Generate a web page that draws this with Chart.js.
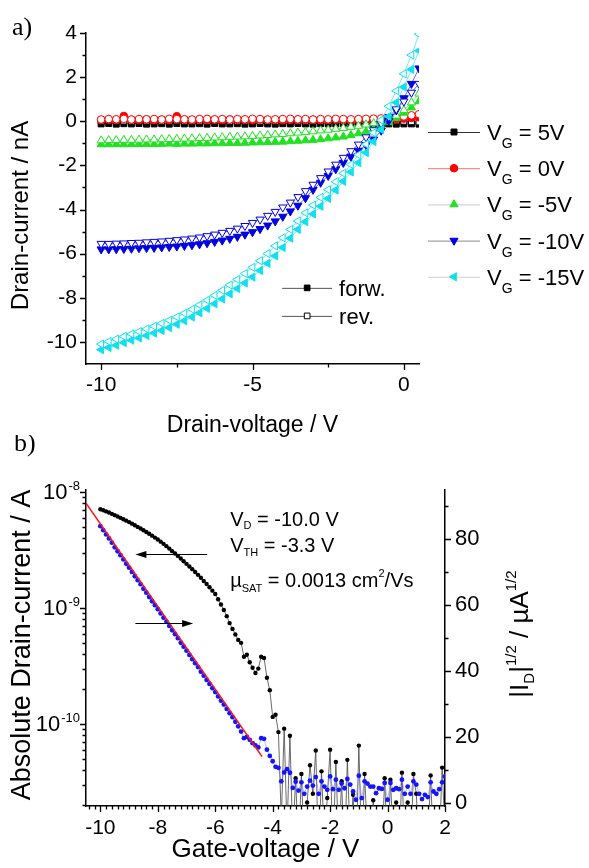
<!DOCTYPE html>
<html>
<head>
<meta charset="utf-8">
<script src="https://cdn.jsdelivr.net/npm/chart.js@4.4.1/dist/chart.umd.min.js"></script>
<style>
  html, body { margin: 0; padding: 0; background: #fff; }
  #wrap { position: relative; width: 589px; height: 868px; }
  #boxA { position: absolute; left: 0; top: 0; width: 589px; height: 441px; }
  #boxB { position: absolute; left: 0; top: 435px; width: 589px; height: 433px; }
</style>
</head>
<body>
<div id="wrap">
  <div id="boxA"><canvas id="chartA" width="589" height="441"></canvas></div>
  <div id="boxB"><canvas id="chartB" width="589" height="433"></canvas></div>
</div>
<script>
/* global Chart */

// a) Ausgangskennlinien: Drain-Spannung in V, Strom in nA
var drainV = [-10, -9.75, -9.5, -9.25, -9, -8.75, -8.5, -8.25, -8, -7.75, -7.5, -7.25, -7, -6.75, -6.5, -6.25,
  -6, -5.75, -5.5, -5.25, -5, -4.75, -4.5, -4.25, -4, -3.75, -3.5, -3.25, -3, -2.75, -2.5, -2.25,
  -2, -1.75, -1.5, -1.25, -1, -0.75, -0.5, -0.25, 0, 0.25, 0.5];

var vg5Fwd = [-0.12, -0.10, -0.13, -0.11, -0.12, -0.10, -0.13, -0.12, -0.11, -0.13,
  -0.10, -0.12, -0.12, -0.11, -0.13, -0.10, -0.12, -0.12, -0.11, -0.13,
  -0.12, -0.10, -0.12, -0.13, -0.11, -0.12, -0.10, -0.12, -0.13, -0.11,
  -0.12, -0.12, -0.10, -0.13, -0.12, -0.11, -0.12, -0.10, -0.12, -0.13,
  -0.12, -0.12, -0.13];
var vg5Rev = [0.00, 0.02, -0.01, 0.01, 0.00, 0.02, 0.01, -0.01, 0.00, 0.01,
  0.02, 0.00, -0.01, 0.01, 0.00, 0.02, 0.01, 0.00, -0.01, 0.01,
  0.02, 0.00, 0.01, -0.01, 0.00, 0.02, 0.01, 0.00, 0.01, -0.01,
  0.00, 0.02, 0.01, 0.00, 0.01, 0.00, -0.01, 0.01, 0.00, 0.02,
  0.00, -0.02, -0.03];
var vg0Fwd = [0.06, 0.08, 0.05, 0.24, 0.07, 0.06, 0.08, 0.05, 0.07, 0.06,
  0.23, 0.07, 0.05, 0.08, 0.06, 0.07, 0.05, 0.08, 0.06, 0.07,
  0.05, 0.08, 0.07, 0.06, 0.05, 0.07, 0.08, 0.06, 0.07, 0.05,
  0.06, 0.08, 0.07, 0.05, 0.06, 0.08, 0.07, 0.06, 0.08, 0.10,
  0.12, 0.15, 0.18];
var vg0Rev = [0.08, 0.10, 0.09, 0.11, 0.08, 0.10, 0.09, 0.10, 0.08, 0.11,
  0.10, 0.09, 0.08, 0.10, 0.11, 0.09, 0.10, 0.08, 0.10, 0.09,
  0.11, 0.10, 0.08, 0.09, 0.10, 0.11, 0.09, 0.10, 0.08, 0.10,
  0.09, 0.11, 0.10, 0.09, 0.10, 0.11, 0.12, 0.13, 0.15, 0.18,
  0.22, 0.27, 0.32];
var vgm5Fwd = [-1.05, -1.05, -1.04, -1.05, -1.04, -1.04, -1.03, -1.04, -1.03, -1.02,
  -1.03, -1.02, -1.02, -1.01, -1.01, -1.00, -1.00, -0.99, -0.99, -0.98,
  -0.97, -0.96, -0.95, -0.94, -0.93, -0.91, -0.89, -0.87, -0.85, -0.82,
  -0.78, -0.74, -0.70, -0.63, -0.55, -0.46, -0.35, -0.22, -0.05, 0.15,
  0.38, 0.62, 0.90];
var vgm5Rev = [-0.87, -0.86, -0.86, -0.85, -0.85, -0.84, -0.83, -0.83, -0.82, -0.81,
  -0.80, -0.79, -0.78, -0.77, -0.76, -0.74, -0.73, -0.71, -0.70, -0.69,
  -0.67, -0.65, -0.63, -0.60, -0.58, -0.55, -0.52, -0.49, -0.46, -0.42,
  -0.39, -0.35, -0.31, -0.26, -0.21, -0.15, -0.09, -0.01, 0.10, 0.25,
  0.50, 0.85, 1.25];
var vgm10Fwd = [-5.80, -5.80, -5.79, -5.78, -5.77, -5.75, -5.74, -5.73, -5.71, -5.69,
  -5.67, -5.64, -5.61, -5.57, -5.52, -5.46, -5.40, -5.32, -5.23, -5.13,
  -5.02, -4.88, -4.72, -4.53, -4.32, -4.08, -3.82, -3.48, -3.10, -2.78,
  -2.47, -2.17, -1.88, -1.60, -1.33, -1.08, -0.82, -0.42, 0.02, 0.50,
  1.05, 1.70, 2.40];
var vgm10Rev = [-5.55, -5.55, -5.54, -5.53, -5.51, -5.50, -5.48, -5.46, -5.44, -5.41,
  -5.38, -5.35, -5.31, -5.26, -5.20, -5.13, -5.05, -4.96, -4.86, -4.74,
  -4.60, -4.45, -4.28, -4.10, -3.90, -3.68, -3.43, -3.16, -2.87, -2.57,
  -2.27, -1.96, -1.65, -1.35, -1.05, -0.72, -0.40, -0.10, 0.20, 0.55,
  0.90, 1.30, 1.70];
var vgm15Fwd = [-10.35, -10.25, -10.15, -10.03, -9.92, -9.82, -9.71, -9.60, -9.48, -9.35,
  -9.20, -9.04, -8.87, -8.68, -8.48, -8.27, -8.05, -7.82, -7.58, -7.33,
  -7.06, -6.76, -6.44, -6.10, -5.72, -5.30, -4.90, -4.55, -4.20, -3.85,
  -3.50, -3.12, -2.72, -2.30, -1.88, -1.42, -0.92, -0.38, 0.22, 0.85,
  1.55, 2.35, 3.20];
var vgm15Rev = [-10.10, -9.98, -9.87, -9.75, -9.64, -9.53, -9.41, -9.29, -9.16, -9.02,
  -8.87, -8.70, -8.52, -8.32, -8.11, -7.89, -7.66, -7.42, -7.17, -6.90,
  -6.62, -6.32, -6.00, -5.65, -5.28, -4.90, -4.52, -4.15, -3.80, -3.45,
  -3.10, -2.74, -2.36, -1.96, -1.52, -1.04, -0.52, 0.05, 0.68, 1.38,
  2.15, 3.00, 3.95];

var gateLegend = ['5V', '0V', '-5V', '-10V', '-15V'];
var aXTicks = [-10, -5, 0];
var aXMinor = [-7.5, -2.5];
var aYTicks = [-10, -8, -6, -4, -2, 0, 2, 4];
var aYMinor = [-9, -7, -5, -3, -1, 1, 3];

// b) Transferkennlinie bei V_D = -10 V
var gateV = [-10, -9.9, -9.8, -9.7, -9.6, -9.5, -9.4, -9.3, -9.2, -9.1,
  -9, -8.9, -8.8, -8.7, -8.6, -8.5, -8.4, -8.3, -8.2, -8.1,
  -8, -7.9, -7.8, -7.7, -7.6, -7.5, -7.4, -7.3, -7.2, -7.1,
  -7, -6.9, -6.8, -6.7, -6.6, -6.5, -6.4, -6.3, -6.2, -6.1,
  -6, -5.9, -5.8, -5.7, -5.6, -5.5, -5.4, -5.3, -5.2, -5.1,
  -5, -4.9, -4.8, -4.7, -4.6, -4.5, -4.4, -4.3, -4.2, -4.1,
  -4, -3.9, -3.8, -3.7, -3.6, -3.5, -3.4, -3.3, -3.2, -3.1,
  -3, -2.9, -2.8, -2.7, -2.6, -2.5, -2.4, -2.3, -2.2, -2.1,
  -2, -1.9, -1.8, -1.7, -1.6, -1.5, -1.4, -1.3, -1.2, -1.1,
  -1, -0.9, -0.8, -0.7, -0.6, -0.5, -0.4, -0.3, -0.2, -0.1,
  0, 0.1, 0.2, 0.3, 0.4, 0.5, 0.6, 0.7, 0.8, 0.9,
  1, 1.1, 1.2, 1.3, 1.4, 1.5, 1.6, 1.7, 1.8, 1.9,
  2];
var absCurrent = [7.10e-9, 6.95e-9, 6.80e-9, 6.65e-9, 6.48e-9, 6.31e-9, 6.15e-9, 5.98e-9, 5.82e-9, 5.66e-9,
  5.50e-9, 5.33e-9, 5.17e-9, 5.00e-9, 4.84e-9, 4.68e-9, 4.52e-9, 4.36e-9, 4.20e-9, 4.04e-9,
  3.89e-9, 3.73e-9, 3.57e-9, 3.41e-9, 3.25e-9, 3.09e-9, 2.95e-9, 2.81e-9, 2.67e-9, 2.53e-9,
  2.40e-9, 2.28e-9, 2.16e-9, 2.04e-9, 1.93e-9, 1.82e-9, 1.71e-9, 1.61e-9, 1.51e-9, 1.41e-9,
  1.32e-9, 1.19e-9, 1.07e-9, 9.6e-10, 8.5e-10, 7.4e-10, 6.6e-10, 5.9e-10, 5.3e-10, 5.0e-10,
  3.8e-10, 3.95e-10, 3.4e-10, 3.05e-10, 2.75e-10, 3.0e-10, 3.8e-10, 3.7e-10, 2.5e-10, 1.95e-10,
  1.15e-10, 1.2e-10, 8.5e-11, 1.5e-11, 9.1e-11, 1.2e-11, 7.9e-11, 1.0e-11, 3.4e-11, 8e-12,
  3.7e-11, 9e-12, 2.1e-11, 4.4e-11, 2.5e-11, 5.9e-11, 7e-12, 3.9e-11, 1.0e-11, 2.3e-11,
  6.0e-11, 8e-12, 4.7e-11, 9e-12, 3.2e-11, 7e-12, 4.9e-11, 1.0e-11, 2.45e-11, 6e-12,
  6.5e-11, 8e-12, 3.7e-11, 1.1e-11, 7e-12, 2.2e-11, 9e-12, 1.2e-11, 8e-12, 3.4e-11,
  7e-12, 3.3e-11, 1.0e-11, 2.1e-11, 8e-12, 3.8e-11, 9e-12, 2.1e-11, 7e-12, 3.7e-11,
  2.5e-11, 8e-12, 1.1e-11, 7e-12, 9e-12, 3.6e-11, 8e-12, 1.0e-11, 9e-12, 4.2e-11,
  1.2e-11];
var sqrtCurrent = [84.0, 82.8, 81.5, 80.3, 79.0, 77.6, 76.4, 75.2, 73.9, 72.6,
  71.4, 70.1, 68.8, 67.6, 66.4, 65.0, 63.8, 62.5, 61.2, 60.0,
  58.8, 57.5, 56.2, 55.0, 53.7, 52.4, 51.2, 50.0, 48.6, 47.4,
  46.2, 44.9, 43.6, 42.4, 41.2, 39.8, 38.6, 37.3, 36.1, 34.8,
  33.6, 32.3, 31.0, 29.8, 28.5, 27.2, 26.0, 24.6, 23.2, 21.6,
  19.6, 20.0, 19.1, 18.1, 17.4, 16.8, 19.6, 19.4, 16.1, 14.2,
  12.6, 10.9, 10.6, 6.5, 9.2, 10.2, 9.1, 4.5, 6.4, 3.7,
  6.2, 2.7, 4.9, 6.7, 5.2, 7.8, 2.7, 6.5, 4.9, 3.9,
  8.0, 4.1, 7.0, 3.9, 5.8, 4.4, 7.2, 5.5, 3.4, 0.9,
  8.2, 1.4, 6.5, 5.8, 4.9, 4.9, 2.9, 4.4, 4.2, 6.0,
  0.9, 6.0, 3.9, 4.4, 4.1, 7.0, 2.7, 4.9, 2.7, 6.5,
  5.5, 2.7, 1.1, 2.4, 1.7, 6.2, 3.4, 2.7, 4.1, 6.2,
  8.0];
var fitV = [-10.5, -4.37];
var fitSqrt = [91.0, 14.0];

var bXTicks = [-10, -8, -6, -4, -2, 0, 2];
var bLogTicks = [1e-10, 1e-9, 1e-8];
var bLogExp = ['-10', '-9', '-8'];
var bRTicks = [0, 20, 40, 60, 80];
var bRMinor = [10, 30, 50, 70, 90];

(function () {
    var FONT = '"Liberation Sans", Arial, sans-serif';
    var SERIF = '"Liberation Serif", "Times New Roman", serif';
    Chart.defaults.font.family = FONT;
    Chart.defaults.color = '#000';

    function pts(xs, ys) {
        return xs.map(function (x, i) { return {x: x, y: ys[i]}; });
    }

    function fixSize(prop, size) {
        return function (scale) { scale[prop] = size; };
    }

    function useTicks(values) {
        return function (scale) {
            scale.ticks = values.map(function (v) { return {value: v}; });
        };
    }

    // Tickstriche nach aussen, selbst gezeichnet (Haupt- und Nebenticks).
    function tickMarks(ctx, scale, values, len, side) {
        ctx.save();
        ctx.strokeStyle = '#000';
        ctx.lineWidth = 1.3;
        ctx.beginPath();
        values.forEach(function (v) {
            var p = Math.round(scale.getPixelForValue(v)) + 0.5;
            if (side === 'bottom') {
                ctx.moveTo(p, scale.top);
                ctx.lineTo(p, scale.top + len);
            } else if (side === 'left') {
                ctx.moveTo(scale.right, p);
                ctx.lineTo(scale.right - len, p);
            } else {
                ctx.moveTo(scale.left, p);
                ctx.lineTo(scale.left + len, p);
            }
        });
        ctx.stroke();
        ctx.restore();
    }

    // Text mit Tief-/Hochstellung: parts = [[text, size, dy], ...]
    function richWidth(ctx, parts) {
        var w = 0;
        parts.forEach(function (p) {
            ctx.font = p[1] + 'px ' + FONT;
            w += ctx.measureText(p[0]).width;
        });
        return w;
    }
    function drawRich(ctx, parts, x, y) {
        ctx.textAlign = 'left';
        ctx.textBaseline = 'alphabetic';
        parts.forEach(function (p) {
            ctx.font = p[1] + 'px ' + FONT;
            ctx.fillText(p[0], x, y + (p[2] || 0));
            x += ctx.measureText(p[0]).width;
        });
        return x;
    }

    function marker(ctx, color, style, rot, open, radius, x, y) {
        ctx.save();
        ctx.fillStyle = open ? '#fff' : color;
        ctx.strokeStyle = color;
        Chart.helpers.drawPoint(ctx, {pointStyle: style, rotation: rot, radius: radius, borderWidth: 1}, x, y);
        ctx.restore();
    }

    // ---------------- a) ----------------
    var aSeries = [
        {fwd: vg5Fwd, rev: vg5Rev, color: '#000000', style: 'rect', rot: 0, r: 4.2, leg: '#333333', order: 8},
        {fwd: vg0Fwd, rev: vg0Rev, color: '#ff0000', style: 'circle', rot: 0, r: 3.8, leg: '#ff7070', order: 6},
        {fwd: vgm5Fwd, rev: vgm5Rev, color: '#22e022', style: 'triangle', rot: 0, r: 4.7, leg: '#c8c8c8', order: 4},
        {fwd: vgm10Fwd, rev: vgm10Rev, color: '#0000e0', style: 'triangle', rot: 180, r: 4.7, leg: '#8a8a8a', order: 2},
        {fwd: vgm15Fwd, rev: vgm15Rev, color: '#10e0ee', style: 'triangle', rot: -90, r: 4.7, leg: '#d0d0d0', order: 0}
    ];

    var aDatasets = [];
    aSeries.forEach(function (s) {
        [false, true].forEach(function (open) {
            aDatasets.push({
                data: pts(drainV, open ? s.rev : s.fwd),
                showLine: true,
                borderColor: s.color,
                borderWidth: 0.6,
                pointStyle: s.style,
                rotation: s.rot,
                pointRadius: s.r,
                pointBorderWidth: 1,
                pointBorderColor: s.color,
                pointBackgroundColor: open ? '#ffffff' : s.color,
                order: open ? s.order : s.order + 1,
                clip: 0
            });
        });
    });

    var aDecor = {
        id: 'aDecor',
        afterDraw: function (chart) {
            var ctx = chart.ctx;
            var xs = chart.scales.x;
            var ys = chart.scales.y;
            var area = chart.chartArea;

            tickMarks(ctx, xs, aXTicks, 6, 'bottom');
            tickMarks(ctx, xs, aXMinor, 3.5, 'bottom');
            tickMarks(ctx, ys, aYTicks, 6, 'left');
            tickMarks(ctx, ys, aYMinor, 3.5, 'left');

            ctx.save();
            ctx.fillStyle = '#000';

            // Panel-Buchstabe
            ctx.font = '26px ' + SERIF;
            ctx.textAlign = 'left';
            ctx.textBaseline = 'alphabetic';
            ctx.fillText('a)', 12, 35);

            // y-Achsentitel
            ctx.save();
            ctx.translate(21, (area.top + area.bottom) / 2 + 17);
            ctx.rotate(-Math.PI / 2);
            ctx.font = '24px ' + FONT;
            ctx.textAlign = 'center';
            ctx.textBaseline = 'middle';
            ctx.fillText('Drain-current / nA', 0, 0);
            ctx.restore();

            // Legende rechts (V_G)
            aSeries.forEach(function (s, i) {
                var y = 132 + i * 36.2;
                var x0 = area.right + 9;
                ctx.strokeStyle = s.leg;
                ctx.lineWidth = 1;
                ctx.beginPath();
                ctx.moveTo(x0, y + 0.5);
                ctx.lineTo(x0 + 52, y + 0.5);
                ctx.stroke();
                marker(ctx, s.color, s.style, s.rot, false, s.r, x0 + 26, y);
                ctx.fillStyle = '#000';
                drawRich(ctx, [['V', 22, 0], ['G', 14, 8], [' = ' + gateLegend[i], 22, 0]], x0 + 59, y + 8);
            });

            // Legende im Plot (forw./rev.)
            [['forw.', false, -7.55], ['rev.', true, -8.82]].forEach(function (e) {
                var y = ys.getPixelForValue(e[2]);
                var xa = xs.getPixelForValue(-4.02);
                var xb = xs.getPixelForValue(-2.37);
                ctx.strokeStyle = '#555';
                ctx.lineWidth = 1;
                ctx.beginPath();
                ctx.moveTo(xa, y + 0.5);
                ctx.lineTo(xb, y + 0.5);
                ctx.stroke();
                marker(ctx, '#000', 'rect', 0, e[1], 4, (xa + xb) / 2, y);
                ctx.fillStyle = '#000';
                drawRich(ctx, [[e[0], 22, 0]], xb + 7, y + 8);
            });
            ctx.restore();
        }
    };

    new Chart(document.getElementById('chartA').getContext('2d'), {
        type: 'scatter',
        data: {datasets: aDatasets},
        options: {
            responsive: false,
            animation: false,
            devicePixelRatio: 1,
            events: [],
            layout: {padding: {top: 33, right: 170, left: 0, bottom: 0}},
            plugins: {legend: {display: false}, tooltip: {enabled: false}},
            scales: {
                x: {
                    type: 'linear',
                    min: -10.5,
                    max: 0.5,
                    afterBuildTicks: useTicks(aXTicks),
                    afterFit: fixSize('height', 77),
                    grid: {display: false, drawTicks: false},
                    border: {display: true, color: '#000', width: 1.5},
                    ticks: {font: {size: 21}, padding: 9, maxRotation: 0},
                    title: {display: true, text: 'Drain-voltage / V', font: {size: 23}, padding: {top: 0, bottom: 2}}
                },
                y: {
                    type: 'linear',
                    min: -11,
                    max: 4,
                    afterBuildTicks: useTicks(aYTicks),
                    afterFit: fixSize('width', 86),
                    grid: {display: false, drawTicks: false},
                    border: {display: true, color: '#000', width: 1.5},
                    ticks: {font: {size: 21}, padding: 9}
                }
            }
        },
        plugins: [aDecor]
    });

    // ---------------- b) ----------------
    var bDecor = {
        id: 'bDecor',
        afterDraw: function (chart) {
            var ctx = chart.ctx;
            var xs = chart.scales.x;
            var yl = chart.scales.yLog;
            var yr = chart.scales.yR;
            var area = chart.chartArea;
            var i, d;

            var xMinor = [];
            for (i = -52; i <= 9; i++) {
                if (i % 10 !== 0) { xMinor.push(i / 5); }
            }
            var logMinor = [];
            [1e-11, 1e-10, 1e-9].forEach(function (dec) {
                for (d = 2; d <= 9; d++) {
                    if (dec * d >= yl.min && dec * d <= yl.max) { logMinor.push(dec * d); }
                }
            });

            tickMarks(ctx, xs, bXTicks, 6, 'bottom');
            tickMarks(ctx, xs, xMinor, 3.5, 'bottom');
            tickMarks(ctx, yl, bLogTicks, 6, 'left');
            tickMarks(ctx, yl, logMinor, 3.5, 'left');
            tickMarks(ctx, yr, bRTicks, 6, 'right');
            tickMarks(ctx, yr, bRMinor, 3.5, 'right');

            ctx.save();
            ctx.fillStyle = '#000';

            // Log-Beschriftung 10^x
            bLogTicks.forEach(function (v, k) {
                var y = yl.getPixelForValue(v);
                ctx.font = '13px ' + FONT;
                var ws = ctx.measureText(bLogExp[k]).width;
                ctx.textAlign = 'right';
                ctx.textBaseline = 'alphabetic';
                ctx.fillText(bLogExp[k], 80, y - 2);
                ctx.font = '22px ' + FONT;
                ctx.textBaseline = 'middle';
                ctx.fillText('10', 80 - ws - 1, y + 1);
            });

            ctx.font = '26px ' + SERIF;
            ctx.textAlign = 'left';
            ctx.textBaseline = 'alphabetic';
            ctx.fillText('b)', 14, 16);

            // linker Achsentitel
            ctx.save();
            ctx.translate(23, (area.top + area.bottom) / 2 - 3);
            ctx.rotate(-Math.PI / 2);
            ctx.font = '27px ' + FONT;
            ctx.textAlign = 'center';
            ctx.textBaseline = 'middle';
            ctx.fillText('Absolute Drain-current / A', 0, 0);
            ctx.restore();

            // rechter Achsentitel |I_D|^1/2 / µA^1/2
            var rParts = [['|I', 26, 0], ['D', 15, 6], ['|', 26, 0], ['1/2', 15, -12], [' / \u00b5A', 26, 0], ['1/2', 15, -12]];
            var rw = richWidth(ctx, rParts);
            ctx.save();
            ctx.translate(528, (area.top + area.bottom) / 2 - 14);
            ctx.rotate(-Math.PI / 2);
            drawRich(ctx, rParts, -rw / 2, 0);
            ctx.restore();

            // Kennwerte
            var tx = xs.getPixelForValue(-5.48);
            drawRich(ctx, [['V', 20, 0], ['D', 11, 3], [' = -10.0 V', 20, 0]], tx, yr.getPixelForValue(84.2));
            drawRich(ctx, [['V', 20, 0], ['TH', 11, 4], [' = -3.3 V', 20, 0]], tx, yr.getPixelForValue(75.5) - 2);
            var ex = drawRich(ctx, [['\u00b5', 20, 0], ['SAT', 11, 5], [' = 0.0013 cm', 20, 0]], tx, yr.getPixelForValue(65.5));
            ex = drawRich(ctx, [['2', 11, -10]], ex, yr.getPixelForValue(65.5));
            drawRich(ctx, [['/Vs', 20, 0]], ex, yr.getPixelForValue(65.5));

            // Pfeile: welche Kurve zu welcher Achse gehoert
            function arrow(v1, v2, r) {
                var x1 = xs.getPixelForValue(v1);
                var x2 = xs.getPixelForValue(v2);
                var y = Math.round(yr.getPixelForValue(r)) + 0.5;
                var dir = x2 > x1 ? 1 : -1;
                ctx.strokeStyle = '#000';
                ctx.lineWidth = 1;
                ctx.beginPath();
                ctx.moveTo(x1, y);
                ctx.lineTo(x2 - dir * 8, y);
                ctx.stroke();
                ctx.fillStyle = '#000';
                ctx.beginPath();
                ctx.moveTo(x2, y);
                ctx.lineTo(x2 - dir * 11, y - 3.5);
                ctx.lineTo(x2 - dir * 11, y + 3.5);
                ctx.closePath();
                ctx.fill();
            }
            arrow(-6.28, -8.78, 75.5);
            arrow(-8.78, -6.77, 54.5);

            ctx.restore();
        }
    };

    new Chart(document.getElementById('chartB').getContext('2d'), {
        type: 'scatter',
        data: {
            datasets: [
                {
                    data: pts(fitV, fitSqrt),
                    yAxisID: 'yR',
                    showLine: true,
                    borderColor: '#ff1818',
                    borderWidth: 1.6,
                    pointRadius: 0,
                    order: 0,
                    clip: 0
                },
                {
                    data: pts(gateV, sqrtCurrent),
                    yAxisID: 'yR',
                    showLine: true,
                    borderColor: 'rgba(110, 110, 255, 0.6)',
                    borderWidth: 0.8,
                    pointRadius: 2.4,
                    pointBorderWidth: 0,
                    pointBackgroundColor: '#1414ff',
                    order: 1,
                    clip: 0
                },
                {
                    data: pts(gateV, absCurrent),
                    yAxisID: 'yLog',
                    showLine: true,
                    borderColor: '#444444',
                    borderWidth: 0.8,
                    pointRadius: 2.2,
                    pointBorderWidth: 0,
                    pointBackgroundColor: '#000000',
                    order: 2,
                    clip: 0
                }
            ]
        },
        options: {
            responsive: false,
            animation: false,
            devicePixelRatio: 1,
            events: [],
            layout: {padding: {top: 55, right: 0, left: 0, bottom: 0}},
            plugins: {legend: {display: false}, tooltip: {enabled: false}},
            scales: {
                x: {
                    type: 'linear',
                    min: -10.5,
                    max: 2,
                    afterBuildTicks: useTicks(bXTicks),
                    afterFit: fixSize('height', 62),
                    grid: {display: false, drawTicks: false},
                    border: {display: true, color: '#000', width: 1.5},
                    ticks: {font: {size: 21}, padding: 10, maxRotation: 0},
                    title: {display: true, text: 'Gate-voltage / V', font: {size: 26}, padding: {top: 0, bottom: 3}}
                },
                yLog: {
                    type: 'logarithmic',
                    position: 'left',
                    min: 1.96e-11,
                    max: 1.04e-8,
                    afterBuildTicks: useTicks(bLogTicks),
                    afterFit: fixSize('width', 86),
                    grid: {display: false, drawTicks: false},
                    border: {display: true, color: '#000', width: 1.5},
                    ticks: {display: false}
                },
                yR: {
                    type: 'linear',
                    position: 'right',
                    min: -1,
                    max: 95,
                    afterBuildTicks: useTicks(bRTicks),
                    afterFit: fixSize('width', 144),
                    grid: {display: false, drawTicks: false},
                    border: {display: true, color: '#000', width: 1.5},
                    ticks: {font: {size: 22}, padding: 10}
                }
            }
        },
        plugins: [bDecor]
    });
})();
</script>
</body>
</html>
